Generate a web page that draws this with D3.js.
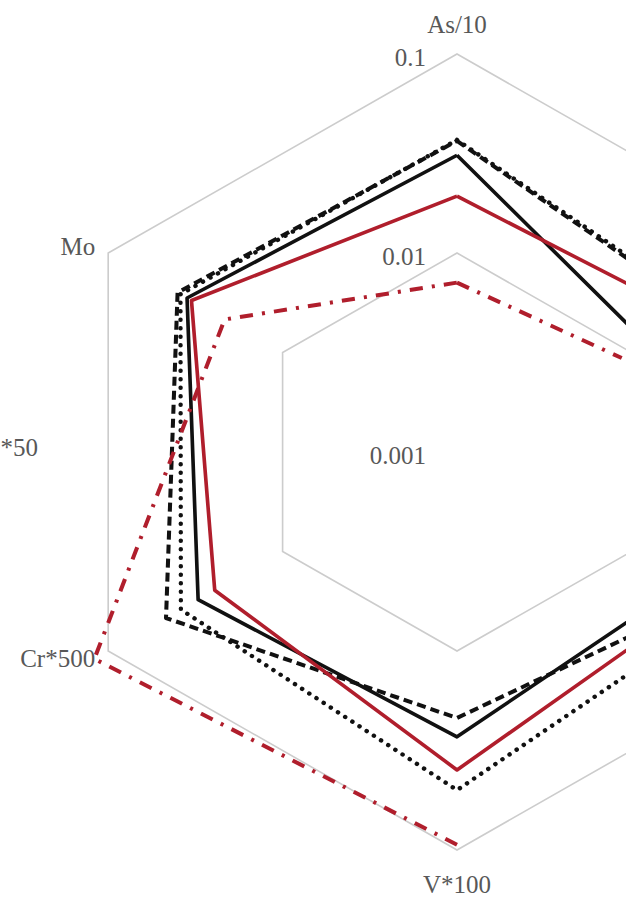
<!DOCTYPE html>
<html>
<head>
<meta charset="utf-8">
<script src="https://cdn.jsdelivr.net/npm/d3@7"></script>
<style>
  html, body { margin: 0; padding: 0; background: #fff; }
  svg { display: block; }
</style>
</head>
<body>
<div id="chart"></div>
<script>
// Axes, clockwise from the top. The two right-hand axes carry no visible name.
const categories = ["As/10", "", "", "V*100", "Cr*500", "Mo"];

// Radial (log) axis ticks
const tickValues = [0.001, 0.01, 0.1];
const tickLabels = ["0.001", "0.01", "0.1"];

// Series values in axis order (null = no value, leaves a gap)
const blackSolid  = [0.0310, 0.0123, 0.0205, 0.0270, 0.0305, 0.0353];
const blackDashed = [0.0366, 0.0260, 0.0290, 0.0217, 0.0466, 0.0400];
const blackDotted = [0.0370, 0.0270, 0.0357, 0.0500, 0.0383, 0.0385];
const redSolid    = [0.0193, 0.0225, 0.0268, 0.0396, 0.0245, 0.0333];
const redDashDot  = [0.0071, 0.0088, null,   0.0940, 0.1200, 0.0215];

const W = 626, H = 899;
const cx = 457, cy = 452, R = 398;
const red = "#b01e2c";
const textColor = "#585858";
const font = "'Liberation Serif', 'DejaVu Serif', serif";

const svg = d3.select("#chart").append("svg")
  .attr("width", W).attr("height", H)
  .attr("viewBox", `0 0 ${W} ${H}`);

const n = categories.length;
const angle = i => i * 2 * Math.PI / n;
const r = d3.scaleLog().domain([0.001, 0.1]).range([0, R]);

const plot = svg.append("g")
  .attr("transform", `translate(${cx},${cy}) scale(1.012,1)`);

// Hexagonal gridlines at each decade
const ring = d3.lineRadial()
  .angle((d, i) => angle(i))
  .radius(d => r(d))
  .curve(d3.curveLinearClosed);

plot.selectAll("path.grid")
  .data(tickValues.filter(v => r(v) > 0))
  .join("path")
  .attr("class", "grid")
  .attr("d", v => ring(d3.range(n).map(() => v)))
  .attr("fill", "none")
  .attr("stroke", "#cccccc")
  .attr("stroke-width", 1.6);

// Series polylines, closed back to the first axis
const seriesLine = d3.lineRadial()
  .defined(d => d.v != null)
  .angle(d => angle(d.i))
  .radius(d => r(d.v))
  .curve(d3.curveLinear);

const series = [
  { values: blackSolid,  color: "#111", width: 3.6, dash: null,        cap: "butt" },
  { values: blackDashed, color: "#111", width: 4.0, dash: "9,5",       cap: "butt" },
  { values: blackDotted, color: "#111", width: 4.4, dash: "0.1,8.4",   cap: "round" },
  { values: redSolid,    color: red,    width: 3.6, dash: null,        cap: "butt" },
  { values: redDashDot,  color: red,    width: 4.0, dash: "13,9,3,9",  cap: "butt" }
];

plot.selectAll("path.series")
  .data(series)
  .join("path")
  .attr("class", "series")
  .attr("d", s => {
    const pts = s.values.map((v, i) => ({ v, i }));
    pts.push({ v: s.values[0], i: n });
    return seriesLine(pts);
  })
  .attr("fill", "none")
  .attr("stroke", s => s.color)
  .attr("stroke-width", s => s.width)
  .attr("stroke-dasharray", s => s.dash)
  .attr("stroke-linecap", s => s.cap)
  .attr("stroke-linejoin", "round");

// Tick labels up the vertical axis
svg.selectAll("text.tick")
  .data(tickValues)
  .join("text")
  .attr("class", "tick")
  .attr("x", cx - 31)
  .attr("y", v => cy - r(v) + 3)
  .attr("text-anchor", "end")
  .attr("dominant-baseline", "central")
  .attr("font-family", font)
  .attr("font-size", 25)
  .attr("fill", textColor)
  .text((v, i) => tickLabels[i]);

// Category labels around the outer ring
const labelPos = (i) => {
  const a = angle(i);
  const s = Math.sin(a), c = Math.cos(a);
  const vx = cx + R * 1.012 * s, vy = cy - R * c;
  if (Math.abs(s) < 1e-6) {
    return { x: vx, y: c > 0 ? vy - 30 : vy + 34, anchor: "middle" };
  }
  return { x: vx + (s < 0 ? -13 : 13), y: vy + (c > 0 ? -7 : 7), anchor: s < 0 ? "end" : "start" };
};

svg.selectAll("text.cat")
  .data(categories.map((name, i) => ({ name, i })).filter(d => d.name))
  .join("text")
  .attr("class", "cat")
  .each(function (d) {
    const p = labelPos(d.i);
    d3.select(this)
      .attr("x", p.x).attr("y", p.y)
      .attr("text-anchor", p.anchor);
  })
  .attr("dominant-baseline", "central")
  .attr("font-family", font)
  .attr("font-size", 25)
  .attr("fill", textColor)
  .text(d => d.name);

// Label of the neighbouring panel's axis at the left edge
svg.append("text")
  .attr("x", 38).attr("y", 447)
  .attr("text-anchor", "end")
  .attr("dominant-baseline", "central")
  .attr("font-family", font)
  .attr("font-size", 25)
  .attr("fill", textColor)
  .text("*50");
</script>
</body>
</html>
